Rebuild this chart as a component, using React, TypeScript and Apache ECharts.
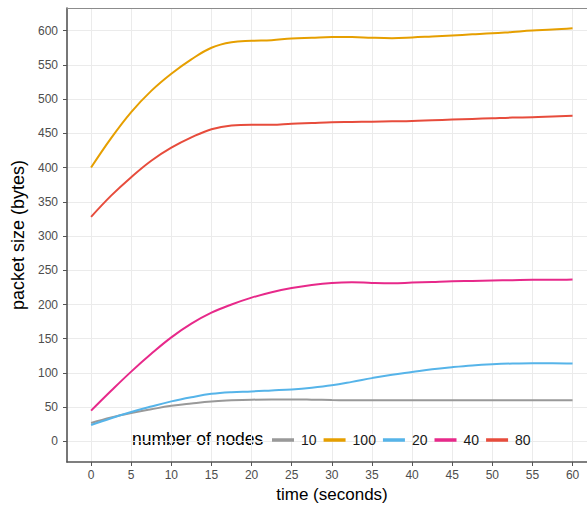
import React, { useEffect, useRef } from "react";
import * as echarts from "echarts";

const times = [0, 2.5, 5, 7.5, 10, 12.5, 15, 17.5, 20, 22.5, 25, 27.5, 30, 32.5, 35, 37.5, 40, 42.5, 45, 47.5, 50, 52.5, 55, 57.5, 60];
const nodes10 = [27, 35, 41.5, 47, 52, 55.5, 58.5, 60, 61, 61.3, 61.3, 61, 60.5, 60, 60, 60, 60, 60, 60, 60, 60, 60, 60, 60, 60];
const nodes100 = [400, 443, 481, 512, 537, 558, 575, 583, 585, 586, 588.5, 589.5, 590.5, 590.5, 589.5, 589, 590, 591.5, 593, 594.5, 596, 598, 600, 601.5, 603.5];
const nodes20 = [24, 34, 43, 51, 58.5, 64.5, 69.5, 72, 73, 74.5, 76, 78.5, 82, 87, 92.5, 97.5, 101.5, 105.5, 108.5, 111, 112.7, 113.8, 114.3, 114.2, 113.7];
const nodes40 = [45, 74, 102, 128, 152, 172, 188, 200, 210, 218, 224, 228.5, 231.5, 232.5, 231.5, 231, 232, 233, 234, 234.5, 235, 235.5, 236, 236, 236.5];
const nodes80 = [328, 359, 386, 410, 429, 444, 456, 461.5, 462.5, 462.5, 464, 465, 466, 466.5, 467, 467.5, 468, 469, 470, 471, 472, 473, 473.5, 474.5, 475.5];

const seriesNames = ["10", "100", "20", "40", "80"];
const seriesValues = [nodes10, nodes100, nodes20, nodes40, nodes80];
const seriesColors = ["#999999", "#E69F00", "#56B4E9", "#E7298A", "#E74C3C"];

const FONT = "'Liberation Sans', Arial, Helvetica, sans-serif";

export default function App() {
  const ref = useRef<HTMLDivElement>(null);
  useEffect(() => {
    document.body.style.margin = "0";
    const chart = echarts.init(ref.current!, null, { renderer: "svg" });
    chart.setOption({
      animation: false,
      textStyle: { fontFamily: FONT },
      grid: {
        left: 67,
        top: 8,
        bottom: 46,
        right: 0,
        show: false,
      },
      xAxis: [
        {
          type: "value",
          min: -3,
          max: 61.8,
          splitNumber: 13,
          name: "time (seconds)",
          nameLocation: "middle",
          nameGap: 24,
          nameTextStyle: { fontSize: 17, color: "#000", fontFamily: FONT, padding: [0, 0, 0, 10] },
          axisLine: { show: true, onZero: false, lineStyle: { color: "#555", width: 1.6 } },
          axisTick: { show: true, length: 4, lineStyle: { color: "#555", width: 1 } },
          axisLabel: {
            fontSize: 12,
            color: "#4d4d4d",
            margin: 7,
            showMinLabel: false,
            showMaxLabel: false,
            fontFamily: FONT,
          },
          splitLine: { show: true, showMinLine: false, showMaxLine: false, lineStyle: { color: "#ebebeb", width: 1 } },
        },
        {
          type: "value",
          position: "top",
          min: -3,
          max: 61.8,
          axisLine: { show: true, onZero: false, lineStyle: { color: "#8c8c8c", width: 1.2 } },
          axisTick: { show: false },
          axisLabel: { show: false },
          splitLine: { show: false },
        },
      ],
      yAxis: {
        type: "value",
        min: -30,
        max: 633,
        splitNumber: 13,
        name: "packet size (bytes)",
        nameLocation: "middle",
        nameGap: 34,
        nameTextStyle: { fontSize: 18, color: "#000", fontFamily: FONT },
        axisLine: { show: true, onZero: false, lineStyle: { color: "#555", width: 1.6 } },
        axisTick: { show: true, length: 4, lineStyle: { color: "#555", width: 1 } },
        axisLabel: {
          fontSize: 12,
          color: "#4d4d4d",
          margin: 9,
          showMinLabel: false,
          showMaxLabel: false,
          fontFamily: FONT,
        },
        splitLine: { show: true, showMinLine: false, showMaxLine: false, lineStyle: { color: "#ebebeb", width: 1 } },
      },
      legend: {
        data: seriesNames,
        left: 272,
        top: 432,
        padding: 0,
        icon: "rect",
        itemWidth: 22,
        itemHeight: 3.5,
        itemGap: 7,
        textStyle: { fontSize: 14, color: "#1a1a1a", fontFamily: FONT, padding: [0, 0, 0, 2], lineHeight: 16 },
      },
      graphic: [
        {
          type: "text",
          left: 132,
          top: 430,
          style: { text: "number of nodes", fontSize: 17.5, fill: "#000", fontFamily: FONT },
        },
      ],
      series: seriesNames.map((name, i) => ({
        name,
        type: "line",
        smooth: 0.4,
        showSymbol: false,
        symbol: "none",
        color: seriesColors[i],
        lineStyle: { width: 2, color: seriesColors[i] },
        data: times.map((t, j) => [t, seriesValues[i][j]]),
      })),
    });
    return () => chart.dispose();
  }, []);
  return <div ref={ref} style={{ width: 587, height: 508 }} />;
}
